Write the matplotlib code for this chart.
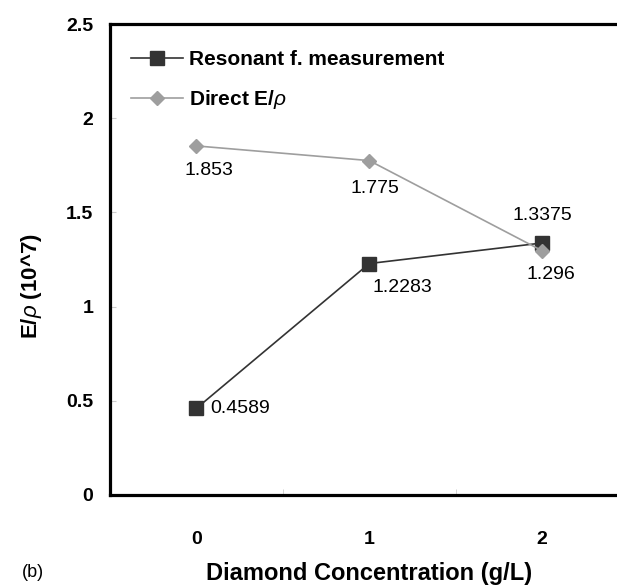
import matplotlib
matplotlib.use("Agg")
import matplotlib.pyplot as plt

plt.rcParams['font.family'] = ['Liberation Sans', 'DejaVu Sans']
plt.rcParams['mathtext.fontset'] = 'custom'
plt.rcParams['mathtext.it'] = 'Liberation Sans:italic'
plt.rcParams['mathtext.rm'] = 'Liberation Sans'

# --- data ---
conc = [0, 1, 2]
conc_labels = ['0', '1', '2']
resonant = [0.4589, 1.2283, 1.3375]
direct = [1.853, 1.775, 1.296]
resonant_txt = ['0.4589', '1.2283', '1.3375']
direct_txt = ['1.853', '1.775', '1.296']

dark = '#333333'
light = '#9e9e9e'

fig = plt.figure(figsize=(6.17, 5.87), dpi=100)
ax = fig.add_axes([0.178, 0.157, 0.841, 0.802])

ax.plot(conc, resonant, color=dark, lw=1.2, marker='s', ms=9.5,
        mfc=dark, mec=dark, label='Resonant f. measurement', zorder=3)
ax.plot(conc, direct, color=light, lw=1.2, marker='D', ms=7,
        mfc=light, mec=light, label=r'Direct E/$\rho$', zorder=4)

# data labels (offsets in points)
res_off = [(10, 0), (2, -17), (0, 20)]
res_ha = ['left', 'left', 'center']
dir_off = [(9, -18), (4, -20), (6, -17)]
for x, y, t, off, ha in zip(conc, resonant, resonant_txt, res_off, res_ha):
    ax.annotate(t, (x, y), xytext=off, textcoords='offset points',
                ha=ha, va='center', fontsize=14)
for x, y, t, off in zip(conc, direct, direct_txt, dir_off):
    ax.annotate(t, (x, y), xytext=off, textcoords='offset points',
                ha='center', va='center', fontsize=14)

ax.set_xlim(-0.5, 2.5)
ax.set_ylim(0, 2.5)
ax.set_yticks([0, 0.5, 1, 1.5, 2, 2.5])
ax.set_yticklabels(['0', '0.5', '1', '1.5', '2', '2.5'])
ax.set_xticks(conc)
ax.set_xticklabels(conc_labels)
ax.set_xticks([0.5, 1.5], minor=True)

ax.tick_params(axis='y', direction='in', length=4, color='#cccccc',
               labelsize=14, pad=12)
ax.tick_params(axis='x', which='major', length=0, labelsize=14, pad=26)
ax.tick_params(axis='x', which='minor', direction='in', length=4,
               color='#cccccc')
for lab in ax.get_xticklabels() + ax.get_yticklabels():
    lab.set_fontweight('bold')

for s in ['top', 'bottom', 'left']:
    ax.spines[s].set_linewidth(2.3)
ax.spines['right'].set_visible(False)

ax.set_ylabel(r'E/$\rho$ (10^7)', fontsize=16, fontweight='bold')
ax.yaxis.set_label_coords(-0.126, 0.444)
ax.set_xlabel('Diamond Concentration (g/L)', fontsize=17, fontweight='bold',
              labelpad=10)
fig.text(0.053, 0.024, '(b)', fontsize=13, ha='center', va='center')

leg = ax.legend(loc='upper left', bbox_to_anchor=(-0.012, 1.002), frameon=False,
                prop={'size': 15, 'weight': 'bold'}, handlelength=2.5,
                handletextpad=0.3, labelspacing=0.9, borderaxespad=0.9)

fig.savefig('out.png', dpi=100)
